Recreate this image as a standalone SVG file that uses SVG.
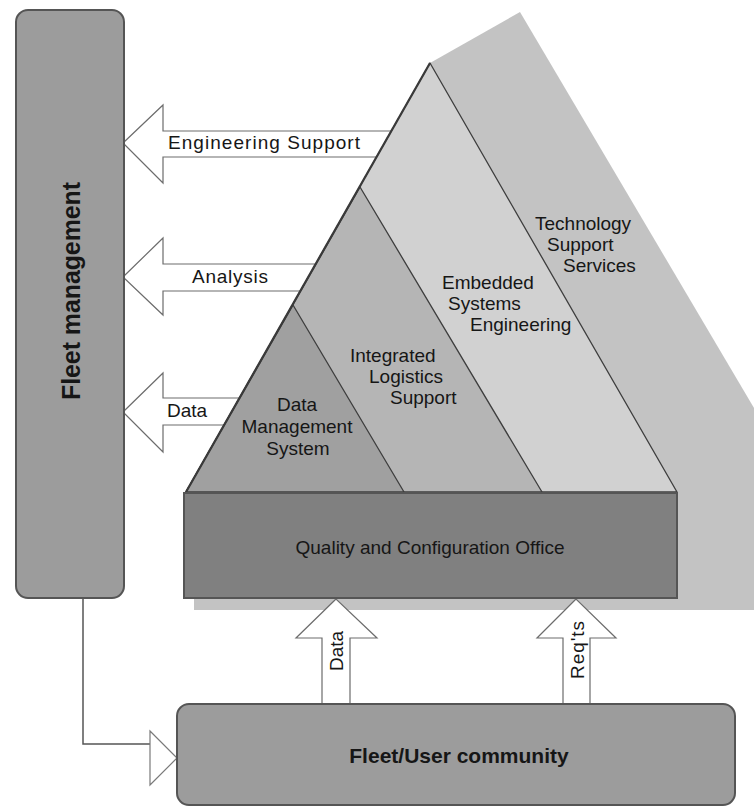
<svg xmlns="http://www.w3.org/2000/svg" width="754" height="809" viewBox="0 0 754 809">
  <style>
    .lbl { font-family: "Liberation Sans", Arial, sans-serif; font-size: 19px; fill: #161616; }
    .big { font-family: "Liberation Sans", Arial, sans-serif; font-weight: bold; fill: #161616; }
    .flow { fill: #ffffff; stroke: #6c6c6c; stroke-width: 1.2; stroke-linejoin: miter; }
    .tier { stroke: #3e3e3e; stroke-width: 1.3; stroke-linejoin: round; }
    .box { stroke: #555555; stroke-width: 2; }
  </style>

  <rect x="0" y="0" width="754" height="809" fill="#ffffff"/>

  <!-- Shadow behind the pyramid, doubling as the Technology Support Services band -->
  <g id="technology-support-services">
    <polygon points="430,63 520,12 754,408 754,610 194,610 194,492" fill="#c3c3c3"/>
    <text class="lbl" x="535" y="230">Technology</text>
    <text class="lbl" x="547" y="251">Support</text>
    <text class="lbl" x="563" y="272">Services</text>
  </g>

  <!-- Flows between the pyramid, fleet management and the user community -->
  <g id="connectors">
    <polygon class="flow" points="123,143 163,105 163,131 400,131 400,157 163,157 163,183"/>
    <polygon class="flow" points="123,277 163,238 163,264 330,264 330,291 163,291 163,315"/>
    <polygon class="flow" points="123,412 163,373 163,398 260,398 260,425 163,425 163,452"/>
    <polygon class="flow" points="336,599 296,638 322,638 322,704 350,704 350,638 377,638"/>
    <polygon class="flow" points="576,599 537,638 563,638 563,704 590,704 590,638 616,638"/>
    <polyline points="83,598 83,744 150,744" fill="none" stroke="#555555" stroke-width="1.5"/>
    <polygon points="150,731 177,758 150,785" fill="#ffffff" stroke="#7a7a7a" stroke-width="1.2"/>
    <text class="lbl" x="168" y="149" textLength="192" lengthAdjust="spacing">Engineering Support</text>
    <text class="lbl" x="192" y="283" textLength="76" lengthAdjust="spacing">Analysis</text>
    <text class="lbl" x="167" y="417" textLength="40" lengthAdjust="spacing">Data</text>
    <text class="lbl" transform="translate(343,651) rotate(-90)" text-anchor="middle">Data</text>
    <text class="lbl" transform="translate(584,650) rotate(-90)" text-anchor="middle" textLength="58" lengthAdjust="spacing">Req'ts</text>
  </g>

  <g id="embedded-systems-engineering">
    <polygon class="tier" points="430,63 186,492 677,492" fill="#d1d1d1"/>
    <text class="lbl" x="442" y="289">Embedded</text>
    <text class="lbl" x="448" y="310">Systems</text>
    <text class="lbl" x="470" y="331">Engineering</text>
  </g>

  <g id="integrated-logistics-support">
    <polygon class="tier" points="360,187 186,492 542,492" fill="#b5b5b5"/>
    <text class="lbl" x="350" y="362">Integrated</text>
    <text class="lbl" x="369" y="383">Logistics</text>
    <text class="lbl" x="390" y="404">Support</text>
  </g>

  <g id="data-management-system">
    <polygon class="tier" points="293,305 186,492 404,492" fill="#a0a0a0"/>
    <line x1="430" y1="63" x2="186" y2="492" stroke="#3a3a3a" stroke-width="2.2"/>
    <text class="lbl" x="297" y="411" text-anchor="middle">Data</text>
    <text class="lbl" x="297" y="433" text-anchor="middle">Management</text>
    <text class="lbl" x="298" y="455" text-anchor="middle">System</text>
  </g>

  <g id="quality-configuration-office">
    <rect class="box" x="184" y="493" width="493" height="105" fill="#808080"/>
    <text class="lbl" x="430" y="554" text-anchor="middle">Quality and Configuration Office</text>
  </g>

  <g id="fleet-management">
    <rect class="box" x="16" y="10" width="108" height="588" rx="12" fill="#9c9c9c"/>
    <text class="big" font-size="26" transform="translate(80,291) rotate(-90)" text-anchor="middle" textLength="218" lengthAdjust="spacingAndGlyphs">Fleet management</text>
  </g>

  <g id="fleet-user-community">
    <rect class="box" x="177" y="704" width="558" height="101" rx="12" fill="#9c9c9c"/>
    <text class="big" font-size="21" x="459" y="763" text-anchor="middle">Fleet/User community</text>
  </g>
</svg>
